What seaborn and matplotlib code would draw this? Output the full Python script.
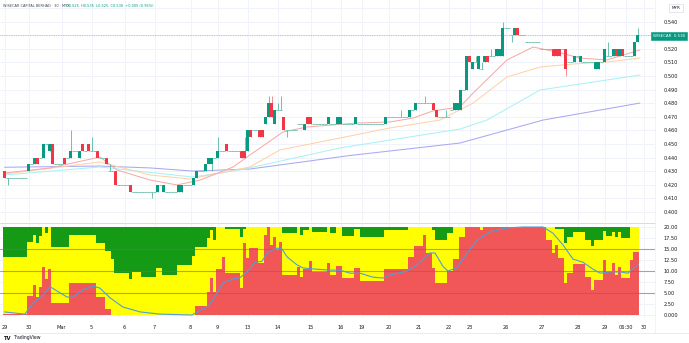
import numpy as np
import pandas as pd
import matplotlib
matplotlib.use("Agg")
import matplotlib.pyplot as plt
import seaborn as sns

# ---------------- data ----------------
opens = [
 .430,.425,.425,.425,.425,.425,.425,.425,.430,.435,
 .435,.440,.440,.440,.450,.445,.450,.435,.435,.435,
 .440,.440,.440,.445,.445,.440,.450,.445,.450,.445,
 .445,.445,.440,.440,.440,.430,.430,.430,.420,.420,
 .420,.420,.420,.415,.415,.415,.415,.415,.415,.415,
 .415,.415,.420,.415,.415,.415,.415,.415,.415,.415,
 .420,.420,.420,.420,.425,.430,.430,.430,.435,.435,
 .440,.440,.445,.445,.450,.445,.445,.445,.445,.445,
 .445,.445,.460,.460,.460,.460,.460,.465,.470,.480,
 .465,.475,.475,.470,.460,.460,.460,.460,.465,.465,
 .460,.470,.470,.465,.465,.465,.465,.465,.465,.465,
 .465,.465,.465,.465,.465,.465,.465,.465,.465,.465,
 .465,.465,.465,.465,.465,.465,.465,.465,.470,.470,
 .470,.470,.470,.470,.470,.470,.475,.475,.480,.480,
 .480,.480,.480,.480,.475,.470,.470,.470,.470,.475,
 .475,.475,.475,.490,.490,.515,.505,.510,.505,.505,
 .510,.515,.515,.515,.515,.515,.515,.535,.535,.530,
 .530,.535,.530,.530,.525,.525,.525,.525,.525,.520,
 .520,.520,.520,.520,.520,.520,.520,.520,.510,.510,
 .510,.515,.510,.510,.510,.510,.510,.505,.505,.510,
 .510,.515,.515,.515,.520,.515,.520,.515,.515,.515,
 .515,.525]
highs = [
 .430,.425,.425,.425,.425,.425,.425,.425,.435,.435,
 .440,.440,.440,.450,.450,.450,.450,.435,.435,.435,
 .440,.440,.460,.445,.445,.445,.450,.445,.450,.455,
 .445,.445,.440,.440,.440,.435,.430,.430,.420,.420,
 .420,.420,.420,.415,.415,.415,.415,.415,.415,.415,
 .415,.420,.420,.420,.415,.415,.415,.415,.420,.420,
 .420,.420,.420,.425,.430,.430,.430,.435,.440,.440,
 .440,.455,.445,.445,.450,.445,.445,.445,.445,.445,
 .455,.460,.460,.460,.460,.460,.460,.470,.485,.485,
 .475,.480,.485,.470,.460,.460,.460,.460,.465,.465,
 .465,.470,.470,.465,.465,.465,.465,.465,.470,.465,
 .465,.470,.470,.465,.465,.465,.465,.470,.465,.465,
 .465,.465,.465,.465,.465,.465,.465,.470,.470,.470,
 .470,.470,.475,.470,.470,.475,.475,.480,.480,.480,
 .485,.480,.480,.480,.475,.470,.470,.475,.470,.475,
 .480,.480,.490,.490,.515,.515,.510,.515,.515,.510,
 .515,.515,.520,.515,.520,.520,.540,.535,.535,.530,
 .535,.535,.530,.530,.525,.525,.525,.525,.525,.520,
 .520,.520,.520,.520,.520,.520,.520,.520,.510,.510,
 .515,.515,.515,.510,.510,.510,.510,.510,.510,.510,
 .520,.525,.515,.520,.520,.520,.520,.515,.515,.515,
 .525,.535]
lows = [
 .425,.420,.425,.425,.425,.425,.425,.425,.430,.435,
 .435,.435,.440,.440,.450,.445,.435,.435,.435,.435,
 .435,.440,.440,.445,.445,.440,.445,.445,.445,.445,
 .445,.440,.440,.440,.435,.430,.430,.420,.420,.420,
 .420,.420,.415,.415,.415,.415,.415,.415,.415,.410,
 .415,.415,.420,.415,.415,.415,.415,.415,.415,.415,
 .420,.420,.420,.420,.425,.430,.430,.430,.435,.430,
 .440,.440,.445,.445,.445,.445,.445,.445,.445,.440,
 .440,.445,.455,.460,.460,.455,.455,.465,.470,.470,
 .465,.475,.475,.460,.455,.460,.460,.460,.465,.465,
 .460,.465,.465,.465,.465,.465,.465,.465,.465,.465,
 .465,.465,.465,.465,.465,.465,.465,.465,.465,.465,
 .465,.465,.465,.465,.465,.465,.465,.465,.470,.470,
 .470,.470,.470,.470,.470,.470,.475,.475,.480,.480,
 .480,.480,.480,.475,.470,.470,.470,.470,.470,.475,
 .475,.475,.475,.490,.490,.510,.505,.510,.505,.505,
 .510,.510,.515,.515,.515,.515,.515,.535,.535,.525,
 .530,.530,.530,.530,.525,.525,.525,.525,.525,.520,
 .520,.520,.520,.515,.515,.515,.520,.500,.510,.510,
 .510,.515,.510,.510,.510,.510,.510,.505,.505,.510,
 .510,.515,.515,.515,.515,.515,.515,.515,.515,.515,
 .515,.525]
closes = [
 .425,.425,.425,.425,.425,.425,.425,.425,.435,.435,
 .440,.435,.440,.450,.450,.450,.435,.435,.435,.435,
 .435,.440,.445,.445,.445,.445,.445,.445,.445,.445,
 .445,.440,.440,.440,.435,.430,.430,.420,.420,.420,
 .420,.420,.415,.415,.415,.415,.415,.415,.415,.415,
 .415,.420,.420,.420,.415,.415,.415,.415,.420,.420,
 .420,.420,.420,.425,.430,.430,.430,.435,.440,.440,
 .440,.445,.445,.445,.445,.445,.445,.445,.445,.440,
 .440,.460,.455,.460,.460,.455,.455,.470,.480,.470,
 .475,.475,.475,.460,.460,.460,.460,.460,.465,.465,
 .465,.465,.465,.465,.465,.465,.465,.465,.470,.465,
 .465,.470,.470,.465,.465,.465,.465,.470,.465,.465,
 .465,.465,.465,.465,.465,.465,.465,.470,.470,.470,
 .470,.470,.470,.470,.470,.475,.475,.480,.480,.480,
 .480,.480,.480,.475,.470,.470,.470,.470,.470,.475,
 .480,.480,.490,.490,.515,.510,.510,.510,.515,.505,
 .515,.510,.515,.515,.520,.520,.535,.535,.535,.530,
 .535,.530,.530,.530,.525,.525,.525,.525,.525,.520,
 .520,.520,.520,.515,.515,.515,.520,.505,.510,.510,
 .515,.515,.515,.510,.510,.510,.510,.510,.510,.510,
 .520,.515,.515,.520,.515,.520,.515,.515,.515,.515,
 .525,.530]

# moving averages: (bar position, price)
ma_fast_x = [0, 15.2, 31.8, 37.5, 48.5, 57.5, 65.2, 76.2, 81.8, 85.2, 92.8, 100.8, 117.5, 128.5, 136.2, 142.8, 151.8, 156.2, 167.5, 176.2, 184.2, 191.8, 200.8, 211.8]
ma_fast_y = [.4287, .4324, .4404, .4309, .4235, .4199, .4235, .4331, .4419, .4471, .4588, .4625, .4654, .4662, .4691, .4743, .4772, .4875, .5118, .5213, .5176, .5132, .5118, .5191]
ma_mid_x = [0, 31.8, 48.5, 61.8, 81.8, 91.8, 111.8, 128.5, 145.2, 156.2, 167.5, 178.5, 189.5, 200.8, 211.8]
ma_mid_y = [.4279, .4368, .4272, .4243, .4331, .4456, .4544, .4618, .4676, .4801, .4993, .5066, .5088, .5103, .5132]
ma_slow_x = [0, 31.8, 62.8, 78.5, 111.8, 151.8, 160.8, 178.5, 211.8]
ma_slow_y = [.4272, .4331, .4257, .4309, .4471, .4610, .4676, .4897, .5007]
ma_long_x = [0, 31.8, 48.5, 62.8, 81.8, 115.0, 151.8, 179.5, 211.8]
ma_long_y = [.4329, .4338, .4324, .4301, .4316, .4415, .4507, .4676, .4801]

# lower indicator: red level and top of yellow level per bar (scale 0-20)
red_level = [
 0.3,0.3,0.3,0.3,0.3,0.3,0.3,0.3,4.3,4.3,
 6.8,4.1,6.4,11.0,8.2,10.4,2.7,2.7,2.7,2.7,
 2.7,2.7,7.3,7.3,7.3,7.3,7.3,7.3,7.3,7.3,
 7.3,4.2,4.2,4.2,1.4,1.4,0,0,0,0,
 0,0,0,0,0,0,0,0,0,0,
 0,0,0,0,0,0,0,0,0,0,
 0,0,0,0,2.0,2.0,2.0,2.0,5.2,8.4,
 5.2,10.4,10.4,13.2,9.5,9.5,9.5,9.5,9.5,6.1,
 16.4,13.0,15.2,15.2,15.2,11.8,11.8,18.2,20,15.9,
 17.7,14.8,16.6,9.1,9.1,9.1,9.1,9.1,11.0,8.6,
 10.4,10.4,12.3,9.8,9.8,9.8,9.8,9.8,11.8,9.1,
 9.1,11.1,11.1,8.4,8.4,8.4,8.4,10.7,10.7,7.7,
 7.7,7.7,7.7,7.7,7.7,7.7,7.7,10.4,10.4,10.4,
 10.4,10.4,10.4,10.4,10.4,13.2,13.2,15.7,15.7,15.7,
 18.2,14.1,14.1,10.7,7.3,7.3,7.3,7.3,10.0,10.0,
 12.7,12.7,17.7,17.7,20,20,20,20,20,19.3,
 20,20,20,20,20,20,20,20,20,20,
 20,20,20,20,20,20,20,20,20,20,
 20,17.0,17.0,14.1,15.9,13.0,13.0,7.3,9.5,9.5,
 11.5,11.5,11.5,11.5,8.6,8.6,5.7,8.0,8.0,8.0,
 12.5,9.8,9.8,11.8,9.1,11.0,8.4,8.4,8.4,12.5,
 14.3,14.3]
yellow_top = [
 13.2,13.2,13.2,13.2,13.2,13.2,13.2,13.2,16.6,16.6,
 18.2,16.4,18.0,20,18.6,20,15.5,15.5,15.5,15.5,
 15.5,15.5,18.2,18.2,18.2,18.2,18.2,18.2,18.2,18.2,
 18.2,16.3,16.3,16.3,14.5,14.5,12.8,9.6,9.6,9.6,
 9.6,9.6,8.2,9.8,9.8,9.8,8.6,8.6,8.6,8.6,
 8.6,10.6,10.6,9.1,9.1,9.1,9.1,9.1,11.4,11.4,
 11.4,11.4,11.4,13.4,15.5,15.5,15.5,15.5,17.5,19.3,
 17.0,20,20,20,19.5,19.5,19.5,19.5,19.5,17.7,
 19.5,20,20,20,20,20,20,20,20,20,
 20,20,20,18.6,18.6,18.6,18.6,18.6,20,18.2,
 19.3,19.3,20,18.9,18.9,18.9,18.9,18.9,20,18.6,
 18.6,20,20,18.0,18.0,18.0,18.0,19.5,19.5,17.7,
 17.7,17.7,17.7,17.7,17.7,17.7,17.7,19.3,19.3,19.3,
 19.3,19.3,19.3,19.3,19.3,20,20,20,20,20,
 20,20,20,19.3,17.0,17.0,17.0,17.0,18.6,18.6,
 20,20,20,20,20,20,20,20,20,20,
 20,20,20,20,20,20,20,20,20,20,
 20,20,20,20,20,20,20,20,20,20,
 20,20,20,20,19.5,19.5,19.5,16.4,17.7,17.7,
 18.9,18.9,18.9,18.9,17.0,17.0,15.7,17.0,17.0,17.0,
 19.1,18.0,18.0,18.9,17.7,18.9,17.5,17.5,17.5,20,
 20,20]
signal_x = [0, 6.8, 9.5, 12.8, 15.2, 20.8, 22.5, 26.2, 29.5, 31.8, 35.2, 39.5, 45.2, 51.8, 62.5, 65.2, 67.5, 69.5, 72.8, 76.2, 78.5, 80.8, 83.5, 85.8, 87.8, 90.8, 92.5, 94.2, 97.5, 99.5, 104.2, 108.5, 111.8, 115.2, 118.5, 122.8, 126.2, 128.5, 134.2, 137.5, 141.8, 143.5, 146.2, 147.8, 150.8, 154.2, 157.5, 161.8, 167.5, 172.8, 179.5, 182.8, 186.2, 189.5, 192.8, 196.2, 198.5, 201.8, 205.2, 207.8, 211.2]
signal_y = [0.7, 0.2, 2.7, 4.5, 6.4, 4.1, 4.0, 5.7, 6.6, 6.1, 3.9, 1.8, 0.7, 0.2, 0.0, 1.1, 1.8, 3.4, 7.3, 8.2, 8.5, 9.8, 12.0, 12.2, 14.3, 15.2, 15.0, 13.2, 11.4, 10.7, 10.4, 10.2, 10.2, 9.5, 9.5, 8.6, 8.4, 9.1, 10.0, 11.4, 14.1, 14.1, 11.0, 10.0, 10.7, 14.1, 17.0, 18.9, 19.8, 20.0, 20.0, 18.6, 15.9, 12.7, 12.0, 10.4, 9.5, 9.8, 9.8, 9.5, 11.5]
level_lines = [5, 10, 15]

tick_pos = [0, 8, 19, 29, 40, 50, 62, 71, 81, 91, 102, 112, 119, 128, 138, 148, 155, 167, 179, 191, 200, 207, 213]
tick_labels = ["29", "30", "Mar", "5", "6", "7", "8", "9", "13", "14", "15", "16",
               "19", "20", "21", "22", "23", "26", "27", "28", "29", "06:30", "30"]
price_ticks = [0.40, 0.41, 0.42, 0.43, 0.44, 0.45, 0.46, 0.47, 0.48, 0.49, 0.50, 0.51, 0.52, 0.54]
osc_ticks = [0, 2.5, 5, 7.5, 10, 12.5, 15, 17.5, 20]
last_price = 0.530

# ---------------- drawing ----------------
sns.set_theme(style="white")
plt.rcParams['font.family'] = ['DejaVu Sans']

W, H = 689, 343
fig = plt.figure(figsize=(W / 100, H / 100), dpi=100)
fig.patch.set_facecolor("white")

def fx(px):
    return px / W

def fy(py):
    return 1 - py / H

right_px = 655
ax1 = fig.add_axes([0, fy(222), fx(right_px), fy(0) - fy(222)])
ax2 = fig.add_axes([0, fy(318), fx(right_px), fy(224) - fy(318)], sharex=ax1)

GREEN = "#089981"
RED = "#f23645"
GRID = "#f0f3fa"
TXT = "#131722"
fs = 3.6

idx = np.arange(len(closes))
o = np.array(opens); h = np.array(highs); l = np.array(lows); c = np.array(closes)

# grid
for p in price_ticks + [0.53, 0.55]:
    ax1.axhline(p, color=GRID, lw=0.7, zorder=0)
for t in tick_pos:
    ax1.axvline(t, color=GRID, lw=0.7, zorder=0)
    ax2.axvline(t, color=GRID, lw=0.7, zorder=0)
for v in osc_ticks:
    ax2.axhline(v, color=GRID, lw=0.7, zorder=0)

# moving averages
for xs, ys, col in [(ma_long_x, ma_long_y, "#aba8f2"),
                    (ma_slow_x, ma_slow_y, "#aaf1f6"),
                    (ma_mid_x, ma_mid_y, "#ffd2a8"),
                    (ma_fast_x, ma_fast_y, "#f7aaaa")]:
    sns.lineplot(x=xs, y=ys, ax=ax1, color=col, lw=0.75, zorder=2)

# last price line
ax1.axhline(last_price, color="#9598a1", lw=0.5, ls=(0, (1, 1.5)), zorder=1)

# candles
up = c > o
flat = c == o
colors = np.where(up, GREEN, RED)
wick = h > l
ax1.vlines(idx[wick], l[wick], h[wick], colors=np.where(c[wick] >= o[wick], "#55b8a2", "#f27a85"), lw=0.6, zorder=3)
ax1.bar(idx[~flat], np.abs(c - o)[~flat], bottom=np.minimum(o, c)[~flat], width=0.72,
        color=colors[~flat], linewidth=0, zorder=4)
ax1.hlines(c[flat], idx[flat] - 0.45, idx[flat] + 0.45, colors="#7cc6b5", lw=0.7, zorder=4)

ax1.set_ylim(0.4 - 10 / 1360, 0.4 + 212 / 1360)

# lower pane stacked bars
red_arr = np.array(red_level)
yel_arr = np.array(yellow_top)
ax2.bar(idx, np.full(len(idx), 20.0), width=0.82, color="#159a15", linewidth=0, zorder=1)
ax2.bar(idx, yel_arr, width=0.82, color="#ffff00", linewidth=0, zorder=2)
ax2.bar(idx, red_arr, width=0.82, color="#f25757", linewidth=0, zorder=3)
for lv in level_lines:
    ax2.axhline(lv, color="#a344c2", lw=0.8, alpha=0.6, zorder=4)
sns.lineplot(x=signal_x, y=signal_y, ax=ax2, color="#4f9ed8", lw=0.8, zorder=5)
ax2.set_ylim((315 - 318) / 4.4, (315 - 224) / 4.4)

# axes styling
for ax in (ax1, ax2):
    for s in ax.spines.values():
        s.set_visible(False)
    ax.yaxis.tick_right()
    ax.tick_params(axis="y", length=0, labelsize=fs, colors=TXT, pad=6)
    ax.set_xlabel(""); ax.set_ylabel("")

ax1.set_yticks(price_ticks)
ax1.set_yticklabels([f"{p:.3f}" for p in price_ticks])
ax2.set_yticks(osc_ticks)
ax2.set_yticklabels(["0.000"] + [f"{v:.2f}" for v in osc_ticks[1:]])
ax1.tick_params(axis="x", labelbottom=False, length=0)
ax2.set_xticks(tick_pos)
ax2.set_xticklabels(tick_labels)
ax2.tick_params(axis="x", length=0, labelsize=fs, colors=TXT, pad=5)
ax1.set_xlim(-1.5, (right_px - 4.5) / 3)

# separators
fig.add_artist(plt.Line2D([0, fx(right_px)], [fy(223), fy(223)], color="#d1d4dc", lw=0.6))
fig.add_artist(plt.Line2D([0, 1], [fy(333), fy(333)], color="#e0e3eb", lw=0.5))
fig.add_artist(plt.Line2D([fx(right_px), fx(right_px)], [fy(333), 1], color="#eceef3", lw=0.5))

# header
fig.text(fx(3), fy(6), "WISECAR CAPITAL BERHAD · 30 · MYX", fontsize=2.5, color="#434651", va="center")
fig.text(fx(66), fy(6), "O0.525  H0.535  L0.525  C0.530  +0.005 (0.95%)", fontsize=2.5, color=GREEN, va="center")

# currency box & last price tag
fig.text(fx(676), fy(8), "MYR", fontsize=3.0, color=TXT, ha="center", va="center",
         bbox=dict(boxstyle="square,pad=0.5", fc="white", ec="#d1d4dc", lw=0.4))
fig.text(fx(669), fy(36), "WISECAR  0.530", fontsize=2.9, color="white", ha="center", va="center",
         bbox=dict(boxstyle="square,pad=0.45", fc=GREEN, ec=GREEN, lw=0.4))

# logo
fig.text(fx(3), fy(338), "TV", fontsize=3.8, color=TXT, weight="bold", va="center")
fig.text(fx(13), fy(338), "TradingView", fontsize=3.3, color=TXT, va="center")

fig.savefig("out.png", dpi=100)
